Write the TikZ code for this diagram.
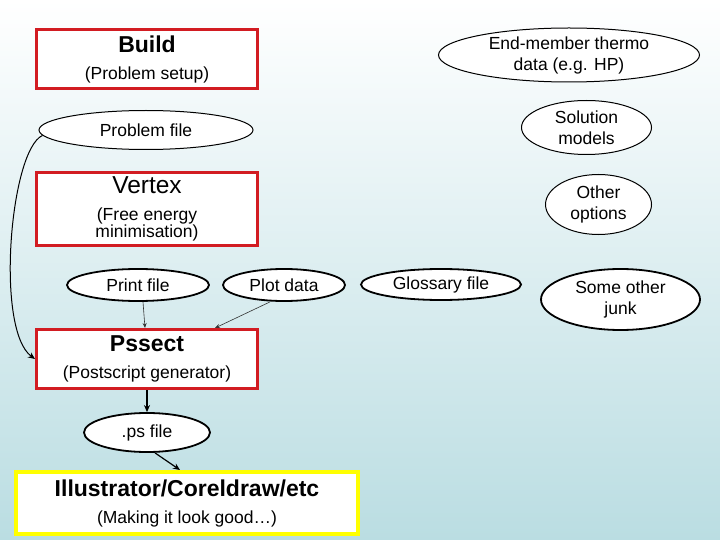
\documentclass[tikz,border=0pt]{standalone}
\usepackage{fontspec}
\setmainfont{Liberation Sans}
\usetikzlibrary{shapes.geometric,arrows.meta,positioning}
\definecolor{boxred}{RGB}{210,28,34}
\definecolor{boxyellow}{RGB}{255,255,0}
\definecolor{bgmid}{RGB}{222,238,240}
\definecolor{bgbot}{RGB}{186,221,226}
\newcommand{\ttlfont}{\fontsize{23}{27}\selectfont\bfseries}

\begin{document}
\begin{tikzpicture}[x=1pt, y=-1pt,
  stage/.style={rectangle, draw=#1, line width=3pt, fill=white,
                inner sep=0pt, align=center,
                font=\fontsize{17.5}{27}\selectfont},
  stage/.default=boxred,
  blob/.style={ellipse, draw, fill=white, line width=1pt,
               inner sep=0pt, align=center,
               font=\fontsize{17.5}{21}\selectfont},
  fat/.style={line width=1.8pt},
  arrow/.style={-{Stealth[length=7pt,width=6pt]}, line width=1.2pt},
  thinarrow/.style={-{Stealth[length=5pt,width=4pt]}, line width=0.6pt, color=black!80}
]
  % Background
  \shade[top color=white, middle color=bgmid, bottom color=bgbot]
    (0,0) rectangle (720,540);
  \useasboundingbox (0,0) rectangle (720,540);

  % Programs
  \node[stage, minimum width=221pt, minimum height=59pt] (build) at (147,59)
    {{\ttlfont Build}\\(Problem setup)};
  \node[stage, minimum width=221pt, minimum height=73pt] (vertex) at (147,209)
    {{\fontsize{24.5}{27}\selectfont Vertex}\\(Free energy\\[-10pt]minimisation)};
  \node[stage, minimum width=221pt, minimum height=59pt] (pssect) at (147,359)
    {{\ttlfont Pssect}\\(Postscript generator)};
  \node[stage=boxyellow, line width=4pt, minimum width=342pt, minimum height=62pt]
    (illus) at (187,503)
    {{\ttlfont Illustrator/Coreldraw/etc}\\(Making it look good\dots)};

  % Files and inputs
  \node[blob, minimum width=261pt, minimum height=54pt] (thermo) at (569,55)
    {End-member thermo\\data (e.g. HP)};
  \node[blob, minimum width=214pt, minimum height=39pt] (probfile) at (146,130)
    {Problem file};
  \node[blob, minimum width=130pt, minimum height=54pt] (solmod) at (586.5,127.5)
    {Solution\\models};
  \node[blob, minimum width=106pt, minimum height=60pt] (otheropt) at (598.5,204.5)
    {Other\\options};
  \node[blob, fat, minimum width=142pt, minimum height=32pt] (printfile) at (138,285)
    {Print file};
  \node[blob, fat, minimum width=122pt, minimum height=32pt] (plotdata) at (284,285)
    {Plot data};
  \node[blob, fat, minimum width=160pt, minimum height=31pt] (glossary) at (441,284.5)
    {Glossary file};
  \node[blob, fat, minimum width=159pt, minimum height=61pt] (junk) at (620.5,299.5)
    {Some other\\junk};
  \node[blob, fat, minimum width=126pt, minimum height=39pt] (psfile) at (147,432.5)
    {.ps file};

  % Arrows
  \draw[arrow, line width=1pt] (probfile.183) .. controls (10,150) and (-5,330) .. (pssect.west);
  \draw[thinarrow] ([xshift=5pt]printfile.south) -- ([xshift=-2pt]pssect.north);
  \draw[thinarrow] ([xshift=-14pt]plotdata.south) -- ([xshift=-44pt]pssect.north east);
  \draw[arrow] (pssect.south -| psfile.north) -- (psfile.north);
  \draw[arrow] ([xshift=8pt]psfile.south) -- ([xshift=-7pt]illus.north);
\end{tikzpicture}
\end{document}
